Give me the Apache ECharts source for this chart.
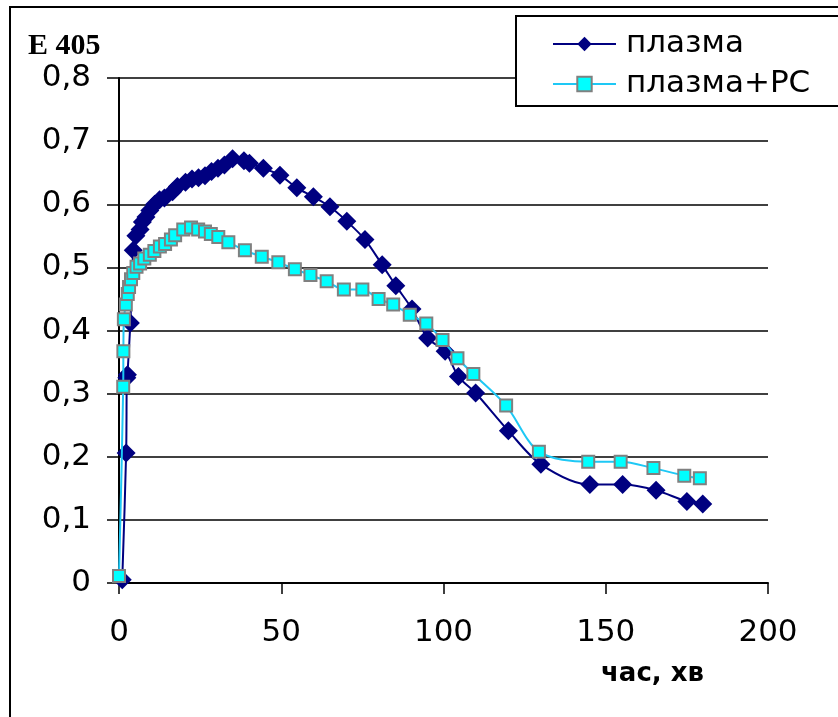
<!DOCTYPE html>
<html>
<head>
<meta charset="utf-8">
<script src="https://cdn.jsdelivr.net/npm/echarts@6/dist/echarts.min.js"></script>
<style>
  html, body { margin: 0; padding: 0; background: #fff; }
  #chart { width: 838px; height: 717px; }
</style>
</head>
<body>
<div id="chart"></div>
<script>
// Absorbance at 405 nm over time (minutes)
const seriesNames = ['плазма', 'плазма+PC'];

const timePlasma = [1, 2.2, 2.4, 2.6, 3.5, 4.4, 5.2, 6.5, 7.2, 8.3, 9.5, 11, 12.5, 14, 16.5, 18, 20.5, 22.5,
  24.5, 26.5, 28.5, 30.5, 32.5, 35, 38.5, 40.2, 44.5, 49.6, 54.8, 59.9, 65, 70.2, 75.8, 81.1, 85.3,
  90.3, 95.1, 100.5, 104.6, 109.9, 120, 130, 145.1, 155.2, 165.5, 175, 179.9];
const valuesPlasma = [0.005, 0.206, 0.325, 0.33, 0.412, 0.527, 0.55, 0.56, 0.572, 0.58, 0.59, 0.6, 0.607,
  0.61, 0.62, 0.628, 0.635, 0.64, 0.642, 0.645, 0.652, 0.657, 0.662, 0.672, 0.669, 0.665, 0.657, 0.646,
  0.626, 0.612, 0.596, 0.573, 0.544, 0.504, 0.471, 0.434, 0.388, 0.367, 0.327, 0.301, 0.241, 0.188,
  0.156, 0.156, 0.147, 0.129, 0.125];

const timePlasmaPC = [0, 1.3, 1.35, 1.5, 2.1, 2.7, 3.1, 3.7, 4.4, 5.4, 6.5, 7.8, 9.5, 10.9, 12.6, 14.2, 16,
  17.3, 19.8, 22.2, 24.4, 26.5, 28.3, 30.6, 33.7, 38.8, 44, 49.1, 54.2, 59, 64, 69.3, 75, 80, 84.5, 89.6,
  94.7, 99.7, 104.3, 109.2, 119.3, 129.4, 144.6, 154.6, 164.7, 174.2, 179];
const valuesPlasmaPC = [0.011, 0.311, 0.367, 0.418, 0.441, 0.458, 0.469, 0.481, 0.491, 0.501, 0.506, 0.514,
  0.52, 0.526, 0.533, 0.537, 0.544, 0.551, 0.56, 0.563, 0.56, 0.557, 0.553, 0.548, 0.54, 0.527, 0.517,
  0.508, 0.497, 0.488, 0.478, 0.465, 0.465, 0.45, 0.441, 0.425, 0.411, 0.385, 0.356, 0.331, 0.281, 0.208,
  0.192, 0.192, 0.182, 0.17, 0.166];

const xTicks = { min: 0, max: 200, interval: 50 };
const yTicks = { min: 0, max: 0.8, interval: 0.1 };
const yTitle = 'E 405';
const xTitle = 'час, хв';

const zip = (xs, ys) => xs.map((x, i) => [x, ys[i]]);

const chart = echarts.init(document.getElementById('chart'), null, { renderer: 'canvas' });
const labelFont = 'DejaVu Sans';

chart.setOption({
  backgroundColor: '#fff',
  animation: false,
  graphic: [
    {
      type: 'rect',
      shape: { x: 10, y: 7, width: 900, height: 800 },
      style: { fill: 'none', stroke: '#000', lineWidth: 2 },
      silent: true, z: -10
    },
    {
      type: 'text',
      left: 28, top: 31,
      style: { text: yTitle, font: 'bold 30px "Liberation Serif"', fill: '#000' }
    },
    {
      type: 'text',
      left: 601, top: 661,
      style: { text: xTitle, font: 'bold 26px "DejaVu Sans"', fill: '#000' }
    }
  ],
  legend: {
    orient: 'vertical',
    left: 516, top: 16,
    padding: [12, 60, 6, 36],
    itemGap: 8,
    itemWidth: 63,
    itemHeight: 18,
    backgroundColor: '#fff',
    borderColor: '#000',
    borderWidth: 2,
    textStyle: { fontFamily: labelFont, fontSize: 31, color: '#000', lineHeight: 32, padding: [0, 0, 0, 5] },
    data: seriesNames,
    z: 10
  },
  grid: { left: 119, right: 70, top: 78, bottom: 134, containLabel: false },
  xAxis: {
    type: 'value',
    min: xTicks.min, max: xTicks.max, interval: xTicks.interval,
    axisLine: { show: true, onZero: false, lineStyle: { color: '#000', width: 2 } },
    axisTick: { show: true, inside: false, length: 11, lineStyle: { color: '#000', width: 1.5 } },
    axisLabel: { fontFamily: labelFont, fontSize: 31, color: '#000', margin: 34 },
    splitLine: { show: false }
  },
  yAxis: {
    type: 'value',
    min: yTicks.min, max: yTicks.max, interval: yTicks.interval,
    axisLine: { show: true, onZero: false, lineStyle: { color: '#000', width: 2 } },
    axisTick: { show: true, inside: false, length: 12, lineStyle: { color: '#000', width: 1.5 } },
    axisLabel: {
      fontFamily: labelFont, fontSize: 31, color: '#000', margin: 28,
      formatter: v => (Math.round(v * 10) / 10).toString().replace('.', ',')
    },
    splitLine: { show: true, lineStyle: { color: '#000', width: 1.5 } }
  },
  series: [
    {
      name: seriesNames[0],
      type: 'line',
      data: zip(timePlasma, valuesPlasma),
      smooth: 0.3,
      clip: false,
      symbol: 'diamond',
      symbolSize: 19,
      itemStyle: { color: '#000080' },
      lineStyle: { color: '#000080', width: 2 },
      z: 2
    },
    {
      name: seriesNames[1],
      type: 'line',
      data: zip(timePlasmaPC, valuesPlasmaPC),
      smooth: 0.3,
      clip: false,
      symbol: 'rect',
      symbolSize: 12,
      itemStyle: { color: '#00FFFF', borderColor: '#808080', borderWidth: 2 },
      lineStyle: { color: '#1EC8F5', width: 2 },
      z: 3
    }
  ]
});
</script>
</body>
</html>
